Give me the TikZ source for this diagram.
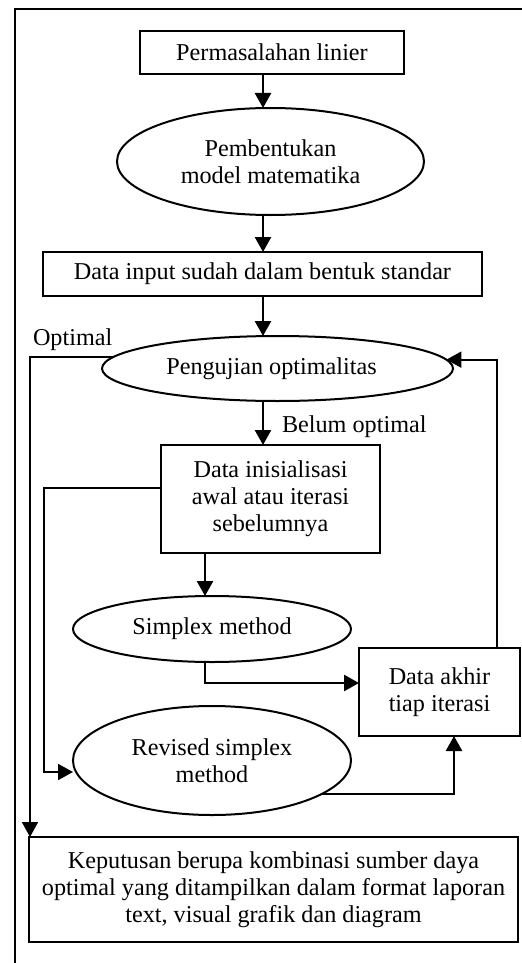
\documentclass[tikz,border=0pt]{standalone}
\usepackage{fontspec}
\setmainfont{Liberation Serif}
\usetikzlibrary{shapes.geometric,arrows.meta}
\begin{document}
\begin{tikzpicture}[x=0.5pt,y=-0.5pt,
  every node/.style={font=\fontsize{12.1}{13.5}\selectfont, align=center,
    inner sep=0pt, outer sep=0pt},
  box/.style={draw, line width=1pt, rectangle},
  oval/.style={draw, line width=1pt, ellipse},
  arr/.style={line width=1.3pt, -{Triangle[length=7.5pt,width=8pt]}},
  thinarr/.style={line width=0.9pt, -{Triangle[length=7.5pt,width=8pt]}}]
\useasboundingbox (0,0) rectangle (522,963);

% page frame (top and left edges)
\draw[line width=1.3pt] (15,963) -- (15,9) -- (522,9);

% process steps
\node[box, minimum width=132pt, minimum height=21.5pt] (p1) at (272,52.5) {Permasalahan linier};
\node[oval, minimum width=153.5pt, minimum height=53.5pt] (e1) at (270.5,161.5) {Pembentukan\\model matematika};
\node[box, minimum width=219.5pt, minimum height=22pt] (b2) at (262.5,274) {Data input sudah dalam bentuk standar};
\node[oval, minimum width=175.5pt, minimum height=32.5pt] (e2) at (277.5,368.5) {\hspace*{-6pt}Pengujian optimalitas};
\node[box, minimum width=109.5pt, minimum height=54pt] (b3) at (270.5,499) {Data inisialisasi\\awal atau iterasi\\sebelumnya};
\node[oval, minimum width=139pt, minimum height=33pt] (e3) at (212,629) {Simplex method};
\node[box, minimum width=80.5pt, minimum height=44pt] (b4) at (439.5,692) {Data akhir\\tiap iterasi};
\node[oval, minimum width=139pt, minimum height=54.5pt] (e4) at (212,760.5) {Revised simplex\\method};
\node[box, minimum width=244.5pt, minimum height=52.5pt] (fin) at (273.5,889.5) {Keputusan berupa kombinasi sumber daya\\optimal yang ditampilkan dalam format laporan\\text, visual grafik dan diagram};

% branch labels
\node[anchor=base west] (lopt) at (33,345) {Optimal};
\node[anchor=base west] (lbel) at (282,432) {Belum optimal};

% main flow
\coordinate (ax) at (263,0);
\coordinate (bx) at (205,0);
\draw[arr] (p1.south -| ax) -- (e1.north -| ax);
\draw[arr] (e1.south -| ax) -- (b2.north -| ax);
\draw[arr] (b2.south -| ax) -- (e2.north -| ax);
\draw[arr] (e2.south -| ax) -- (b3.north -| ax);
\draw[arr] (b3.south -| bx) -- (e3.north -| bx);
\draw[arr] (e3.south -| bx) |- (b4.west |- 0,683);
\draw[arr] (e4.-17.4) -| (b4.south -| 454,0);

% side branches and loop back
\draw[thinarr] (b3.west |- 0,488) -| (44,772) -- (e4.west |- 0,772);
\draw[thinarr] (b4.north -| 497,0) |- (e2.3.6);
\draw[thinarr] (e2.176.4) -| (fin.north -| 30,0);
\end{tikzpicture}
\end{document}
